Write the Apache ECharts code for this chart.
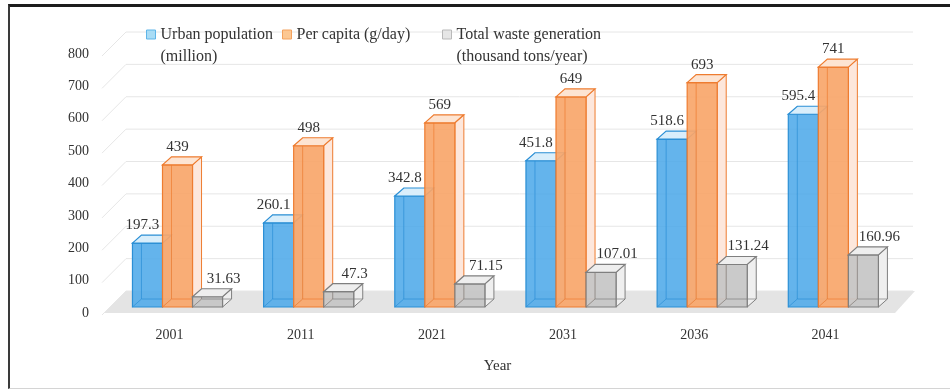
<!DOCTYPE html>
<html lang="en">

<head>
  <meta charset="UTF-8">
  <title>Urban population and waste</title>
  <script src="https://cdn.jsdelivr.net/npm/echarts@6/dist/echarts.min.js"></script>
  <style>
    body { margin: 0; background: #fff; }
    #frame { position: absolute; left: 8px; top: 4px; width: 950px; height: 381px;
      border-top: 3px solid #1c1c1c; border-left: 2px solid #3a3a3a; border-bottom: 1px solid #d4d4d4; }
    #main { position: absolute; left: 0; top: 0; width: 950px; height: 390px; }
  </style>
</head>

<body>
  <div id="frame"></div>
  <div id="main"></div>

  <script>
    var years = ['2001', '2011', '2021', '2031', '2036', '2041']
    var urbanPop = [197.3, 260.1, 342.8, 451.8, 518.6, 595.4]
    var perCapita = [439, 498, 569, 649, 693, 741]
    var totalWaste = [31.63, 47.3, 71.15, 107.01, 131.24, 160.96]
    var yTicks = [0, 100, 200, 300, 400, 500, 600, 700, 800]

    var font = 'Liberation Serif'
    var D = 22 // depth of the floor / back wall, px

    // front, top, side, edge colours per series
    var pal = [
      { front: 'rgba(78,170,233,0.88)', top: '#d9eefb', side: '#cfe6f7', edge: '#2b8fd5', label: [-5, -18] },
      { front: 'rgba(249,166,106,0.92)', top: '#fde4d2', side: '#fde7dc', edge: '#ee7c30', label: [0, -18] },
      { front: 'rgba(196,196,196,0.9)', top: '#eeeeee', side: '#efefef', edge: '#7f7f7f', label: [16, -18] }
    ]

    function toPairs(arr) {
      return arr.map(function (v, i) { return [i, v] })
    }

    function boxRenderer(s) {
      return function (params, api) {
        var i = api.value(0), v = api.value(1)
        var band = api.size([1, 0])[0]
        var base = api.coord([i, 0])
        var top = api.coord([i, v])
        var w = band * 0.229
        var x = base[0] - band * 0.283 + s * w
        var yb = base[1] - 6, yt = top[1] - 6
        var dx = 9, dy = 8
        var c = pal[s]
        return {
          type: 'group',
          children: [
            { type: 'polygon', shape: { points: [[x + w, yt], [x + w + dx, yt - dy], [x + w + dx, yb - dy], [x + w, yb]] },
              style: { fill: c.side, stroke: c.edge, lineWidth: 1 } },
            { type: 'rect', shape: { x: x, y: yt, width: w, height: yb - yt },
              style: { fill: c.front, stroke: c.edge, lineWidth: 1.2 } },
            { type: 'polyline', shape: { points: [[x + dx, yt - dy], [x + dx, yb - dy], [x + w + dx, yb - dy]] },
              style: { fill: 'none', stroke: c.edge, lineWidth: 1, opacity: 0.7 } },
            { type: 'line', shape: { x1: x, y1: yb, x2: x + dx, y2: yb - dy },
              style: { fill: 'none', stroke: c.edge, lineWidth: 1, opacity: 0.7 } },
            { type: 'polygon', shape: { points: [[x, yt], [x + w, yt], [x + w + dx, yt - dy], [x + dx, yt - dy]] },
              style: { fill: c.top, stroke: c.edge, lineWidth: 1.2 } },
            { type: 'text', style: { text: String(v), x: x + w / 2 + c.label[0], y: yt + c.label[1],
              align: 'center', verticalAlign: 'middle', fill: '#333', font: '15px "' + font + '"' } }
          ]
        }
      }
    }

    function wallRenderer(params, api) {
      var cs = params.coordSys
      var p = api.coord([0, api.value(1)])
      var x0 = cs.x, x1 = cs.x + cs.width, y = p[1]
      return {
        type: 'polyline',
        shape: { points: [[x0 - 2, y + 2], [x0 + D, y - D], [x1 + D, y - D]] },
        style: { stroke: '#e6e6e6', lineWidth: 1, fill: 'none' }
      }
    }

    function floorRenderer(params, api) {
      var cs = params.coordSys
      var y = api.coord([0, 0])[1]
      var x0 = cs.x, x1 = cs.x + cs.width
      return {
        type: 'polygon',
        shape: { points: [[x0, y], [x1 + 4, y], [x1 + D + 2, y - D], [x0 + D, y - D]] },
        style: { fill: '#e4e4e4' }
      }
    }

    var legendText = {
      fontFamily: font, fontSize: 16, color: '#333', lineHeight: 22
    }

    // blank first line keeps the icon level with the first text line
    var legendLabels = {
      'Urban population': ' \nUrban population\n(million)',
      'Per capita (g/day)': 'Per capita (g/day)',
      'Total waste generation': ' \nTotal waste generation\n(thousand tons/year)'
    }

    function legendAt(name, left, top, fill, border) {
      return {
        data: [name],
        left: left,
        top: top,
        padding: 0,
        icon: 'rect',
        itemWidth: 9,
        itemHeight: 9,
        itemGap: 0,
        selectedMode: false,
        itemStyle: { color: fill, borderColor: border, borderWidth: 1 },
        textStyle: legendText,
        formatter: function (n) { return legendLabels[n] }
      }
    }

    var myChart = echarts.init(document.getElementById('main'))

    myChart.setOption({
      animation: false,
      textStyle: { fontFamily: font },
      legend: [
        legendAt('Urban population', 146, 1.5, '#a9dcf5', '#5fb5e8'),
        legendAt('Per capita (g/day)', 282, 23.5, '#fcc792', '#f3a25f'),
        legendAt('Total waste generation', 442, 1.5, '#e6e6e6', '#b9b9b9')
      ],
      grid: { left: 104, right: 59, top: 54, bottom: 77 },
      xAxis: {
        type: 'category',
        data: years,
        axisLine: { show: false },
        axisTick: { show: false },
        axisLabel: { fontFamily: font, fontSize: 14, color: '#333', margin: 15 },
        name: 'Year',
        nameLocation: 'middle',
        nameGap: 46,
        nameTextStyle: { fontFamily: font, fontSize: 15, color: '#333' }
      },
      yAxis: {
        type: 'value',
        min: 0,
        max: 800,
        interval: 100,
        axisLine: { show: false },
        axisTick: { show: false },
        splitLine: { show: false },
        axisLabel: { fontFamily: font, fontSize: 14, color: '#333', margin: 15 }
      },
      series: [
        { type: 'custom', name: 'floor', silent: true, renderItem: floorRenderer, data: [[0, 0]] },
        { type: 'custom', name: 'wall', silent: true, renderItem: wallRenderer, data: toPairs(yTicks) },
        { type: 'custom', name: 'Urban population', silent: true, renderItem: boxRenderer(0),
          itemStyle: { color: '#4eaae9' }, data: toPairs(urbanPop) },
        { type: 'custom', name: 'Per capita (g/day)', silent: true, renderItem: boxRenderer(1),
          itemStyle: { color: '#f9a66a' }, data: toPairs(perCapita) },
        { type: 'custom', name: 'Total waste generation', silent: true, renderItem: boxRenderer(2),
          itemStyle: { color: '#c4c4c4' }, data: toPairs(totalWaste) }
      ]
    })
  </script>

</body>

</html>
